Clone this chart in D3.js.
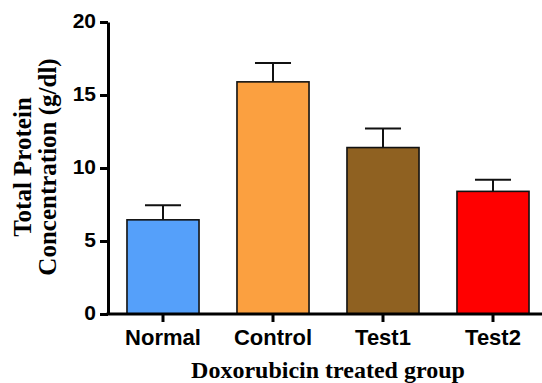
<!DOCTYPE html>
<html>
<head>
<meta charset="utf-8">
<script src="https://cdn.jsdelivr.net/npm/d3@7"></script>
<style>
  html, body { margin: 0; padding: 0; background: #fff; }
  svg { display: block; }
</style>
</head>
<body>
<svg id="chart" width="542" height="383"></svg>
<script>
const categories = ["Normal", "Control", "Test1", "Test2"];
const means = [6.45, 15.9, 11.4, 8.4];
const errors = [1.0, 1.3, 1.3, 0.8];
const colors = ["#55a0fa", "#fba040", "#8f6121", "#ff0000"];
const yTicks = [0, 5, 10, 15, 20];
const yTitleLines = ["Total Protein", "Concentration (g/dl)"];
const xTitle = "Doxorubicin treated group";

const svg = d3.select("#chart");
const x0 = 108, x1 = 548, yBottom = 314, yTop = 22;

const x = d3.scaleBand().domain(categories).range([x0, x1])
  .paddingInner(0.345).paddingOuter(0.1725);
const y = d3.scaleLinear().domain([0, 20]).range([yBottom, yTop]);

const data = categories.map((c, i) => ({ c, m: means[i], e: errors[i], col: colors[i] }));

// bars
svg.append("g").selectAll("rect").data(data).join("rect")
  .attr("x", d => x(d.c))
  .attr("y", d => y(d.m))
  .attr("width", x.bandwidth())
  .attr("height", d => y(0) - y(d.m))
  .attr("fill", d => d.col)
  .attr("stroke", "#111")
  .attr("stroke-width", 1.6);

// error bars
const eb = svg.append("g").attr("stroke", "#111").attr("stroke-width", 2);
eb.selectAll("line.v").data(data).join("line").attr("class", "v")
  .attr("x1", d => x(d.c) + x.bandwidth() / 2)
  .attr("x2", d => x(d.c) + x.bandwidth() / 2)
  .attr("y1", d => y(d.m))
  .attr("y2", d => y(d.m + d.e));
eb.selectAll("line.h").data(data).join("line").attr("class", "h")
  .attr("x1", d => x(d.c) + x.bandwidth() / 2 - x.bandwidth() / 4)
  .attr("x2", d => x(d.c) + x.bandwidth() / 2 + x.bandwidth() / 4)
  .attr("y1", d => y(d.m + d.e))
  .attr("y2", d => y(d.m + d.e));

// y axis
const yAxis = svg.append("g").attr("transform", `translate(${x0},0)`)
  .call(d3.axisLeft(y).tickValues(yTicks).tickSize(8).tickSizeOuter(0).tickPadding(4));
yAxis.select(".domain").attr("stroke", "#000").attr("stroke-width", 3);
yAxis.selectAll(".tick line").attr("stroke", "#000").attr("stroke-width", 3);
yAxis.selectAll(".tick text")
  .attr("font-family", "'Liberation Sans', Arial, sans-serif")
  .attr("font-weight", "bold").attr("font-size", 21).attr("fill", "#000")
  .attr("dy", "0.28em");

// x axis
const xAxis = svg.append("g").attr("transform", `translate(0,${yBottom})`)
  .call(d3.axisBottom(x).tickSize(8).tickSizeOuter(0).tickPadding(7));
xAxis.select(".domain").attr("stroke", "#000").attr("stroke-width", 3)
  .attr("d", `M${x0 - 1.5},0H542`);
xAxis.selectAll(".tick line").attr("stroke", "#000").attr("stroke-width", 3);
xAxis.selectAll(".tick text")
  .attr("font-family", "'Liberation Sans', Arial, sans-serif")
  .attr("font-weight", "bold").attr("font-size", 22).attr("fill", "#000");

// y title
const yt = svg.append("text")
  .attr("transform", "translate(0,167) rotate(-90)")
  .attr("text-anchor", "middle")
  .attr("font-family", "'Liberation Serif', 'Times New Roman', serif")
  .attr("font-weight", "bold").attr("font-size", 25).attr("fill", "#000");
yTitleLines.forEach((t, i) => {
  yt.append("tspan").attr("x", 0).attr("y", i === 0 ? 31 : 56).text(t);
});

// x title
svg.append("text")
  .attr("x", 328).attr("y", 378)
  .attr("text-anchor", "middle")
  .attr("font-family", "'Liberation Serif', 'Times New Roman', serif")
  .attr("font-weight", "bold").attr("font-size", 24).attr("fill", "#000")
  .text(xTitle);
</script>
</body>
</html>
